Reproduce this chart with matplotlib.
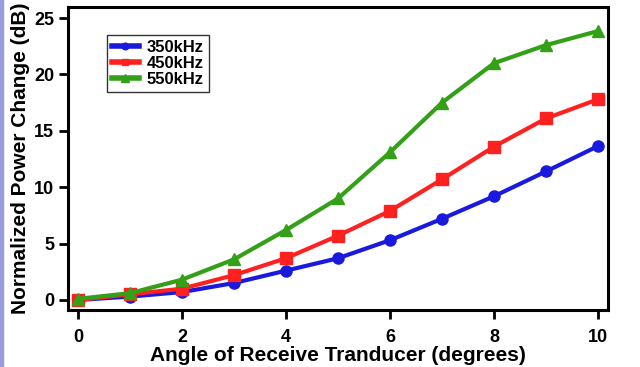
import matplotlib
matplotlib.use("Agg")
import matplotlib.pyplot as plt
from matplotlib.patches import Rectangle

angles = [0, 1, 2, 3, 4, 5, 6, 7, 8, 9, 10]
s350 = [0.0, 0.3, 0.7, 1.5, 2.6, 3.7, 5.3, 7.2, 9.2, 11.4, 13.65]
s450 = [0.0, 0.5, 1.0, 2.2, 3.7, 5.7, 7.9, 10.7, 13.6, 16.1, 17.8]
s550 = [0.1, 0.6, 1.8, 3.6, 6.2, 9.0, 13.1, 17.5, 21.0, 22.6, 23.85]
labels = ["350kHz", "450kHz", "550kHz"]
xticks = [0, 2, 4, 6, 8, 10]
yticks = [0, 5, 10, 15, 20, 25]

plt.rcParams['font.family'] = ['Liberation Sans', 'DejaVu Sans']
plt.rcParams['font.weight'] = 'bold'

fig = plt.figure(figsize=(6.4, 3.67), dpi=100)
ax = fig.add_axes([68/640, 1-310/367, 540/640, 303/367])

ax.plot(angles, s350, color='#1a1adf', lw=3, marker='o', ms=8, label=labels[0])
ax.plot(angles, s450, color='#ff2020', lw=3, marker='s', ms=8, label=labels[1])
ax.plot(angles, s550, color='#33a017', lw=3, marker='^', ms=9, label=labels[2])

ax.set_xlim(-0.19, 10.19)
ax.set_ylim(-0.89, 25.98)
ax.set_xticks(xticks)
ax.set_yticks(yticks)
for sp in ax.spines.values():
    sp.set_linewidth(2.2)
ax.tick_params(width=2, length=6.5, labelsize=13)
ax.tick_params(axis='x', pad=7)
ax.tick_params(axis='y', pad=3.5)
for lab in ax.get_xticklabels() + ax.get_yticklabels():
    lab.set_fontweight('bold')
ax.set_xlabel("Angle of Receive Tranducer (degrees)", fontsize=15, fontweight='bold', labelpad=0)
ax.set_ylabel("Normalized Power Change (dB)", fontsize=15, fontweight='bold', labelpad=3)

leg = ax.legend(loc='upper left', bbox_to_anchor=(39/540, (310-35)/303), fontsize=12,
                frameon=True, fancybox=False, edgecolor='black', handlelength=1.6,
                borderpad=0.3, labelspacing=0.05, handletextpad=0.5, markerscale=0.6,
                borderaxespad=0)
leg.get_frame().set_linewidth(1)
for h in leg.get_lines():
    h.set_linewidth(4)
for t in leg.get_texts():
    t.set_fontweight('bold')

fig.patches.append(Rectangle((0, 0), 3/640, 1, transform=fig.transFigure, color='#9a9ae0'))
fig.savefig("out.png", dpi=100)
